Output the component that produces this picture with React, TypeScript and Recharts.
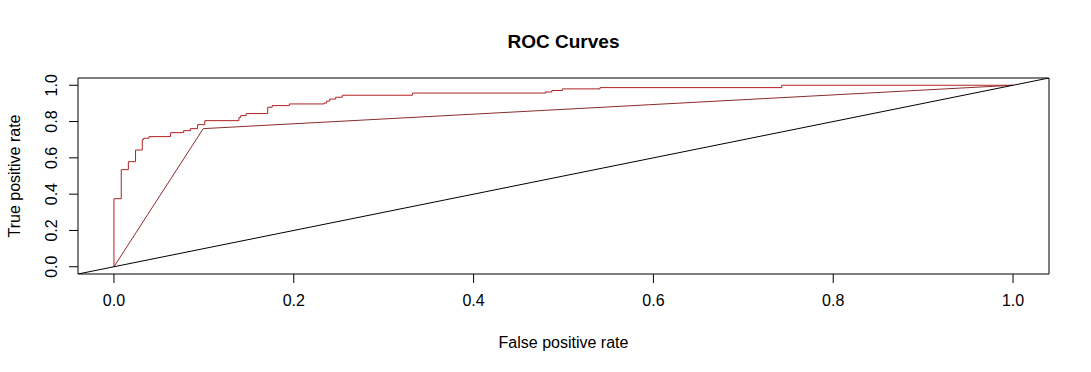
import React from 'react';
import { ComposedChart, Line, XAxis, YAxis, ReferenceArea, Customized } from 'recharts';

// ROC curve 1 (stepped) – corners where the curve steps up
const stepFpr = [0, 0, 0.0081, 0.016, 0.024, 0.0315, 0.033, 0.039, 0.063, 0.0775, 0.085, 0.093, 0.101, 0.139, 0.141, 0.147, 0.171, 0.176, 0.195, 0.2336, 0.2366, 0.24, 0.2466, 0.254, 0.332, 0.48, 0.487, 0.4987, 0.5406, 0.7427, 1.0];
const stepTpr = [0, 0.375, 0.535, 0.579, 0.643, 0.7, 0.708, 0.717, 0.739, 0.75, 0.761, 0.783, 0.805, 0.822, 0.833, 0.844, 0.879, 0.888, 0.897, 0.902, 0.913, 0.924, 0.934, 0.945, 0.957, 0.963, 0.971, 0.98, 0.987, 1.0, 1.0];

// ROC curve 2 (three points)
const lineFpr = [0, 0.0993, 1.0];
const lineTpr = [0, 0.761, 1.0];

// chance diagonal, drawn across the whole plot region
const diagFpr = [-0.04, 1.04];
const diagTpr = [-0.04, 1.04];

const ticks = [0, 0.2, 0.4, 0.6, 0.8, 1.0];

const zip = (xs: number[], ys: number[]) => xs.map((x, i) => ({ fpr: x, tpr: ys[i] }));
const stepData = zip(stepFpr, stepTpr);
const lineData = zip(lineFpr, lineTpr);
const diagData = zip(diagFpr, diagTpr);

const FONT = '"Liberation Sans", Arial, sans-serif';

const XTick = (props: any) => {
  const { x, payload } = props;
  return (
    <text x={x} y={306} textAnchor="middle" fontFamily={FONT} fontSize={16} fill="#000">
      {Number(payload.value).toFixed(1)}
    </text>
  );
};

const YTick = (props: any) => {
  const { y, payload } = props;
  return (
    <text x={57} y={y} transform={`rotate(-90, 57, ${y})`} textAnchor="middle" fontFamily={FONT} fontSize={16} fill="#000">
      {Number(payload.value).toFixed(1)}
    </text>
  );
};

const Titles = () => (
  <g fontFamily={FONT} fill="#000">
    <text x={563.5} y={48} textAnchor="middle" fontSize={19} fontWeight="bold">ROC Curves</text>
    <text x={563.5} y={348} textAnchor="middle" fontSize={16}>False positive rate</text>
    <text x={20} y={176} transform="rotate(-90, 20, 176)" textAnchor="middle" fontSize={16}>True positive rate</text>
  </g>
);

export default function App() {
  return (
    <div style={{ position: 'absolute', left: 0, top: 0, width: 1091, height: 372, background: '#fff' }}>
      <ComposedChart width={1091} height={372} margin={{ top: 78, right: 42, bottom: 38, left: 18 }}>
        <XAxis
          dataKey="fpr"
          type="number"
          domain={[-0.04, 1.04]}
          ticks={ticks}
          allowDataOverflow
          axisLine={false}
          tickLine={{ stroke: '#000' }}
          tickSize={9}
          tick={<XTick />}
          height={60}
          interval={0}
        />
        <YAxis
          dataKey="tpr"
          type="number"
          domain={[-0.04, 1.04]}
          ticks={ticks}
          allowDataOverflow
          axisLine={false}
          tickLine={{ stroke: '#000' }}
          tickSize={9}
          tick={<YTick />}
          width={60}
          interval={0}
        />
        <ReferenceArea x1={-0.04} x2={1.04} y1={-0.04} y2={1.04} fill="none" fillOpacity={0} stroke="#000" strokeWidth={1} ifOverflow="visible" />
        <Line data={stepData} dataKey="tpr" type="stepAfter" stroke="#B22222" strokeWidth={1} dot={false} activeDot={false} isAnimationActive={false} />
        <Line data={lineData} dataKey="tpr" type="linear" stroke="#8B2D2D" strokeWidth={1} dot={false} activeDot={false} isAnimationActive={false} />
        <Line data={diagData} dataKey="tpr" type="linear" stroke="#000" strokeWidth={1} dot={false} activeDot={false} isAnimationActive={false} />
        <Customized component={Titles} />
      </ComposedChart>
    </div>
  );
}
